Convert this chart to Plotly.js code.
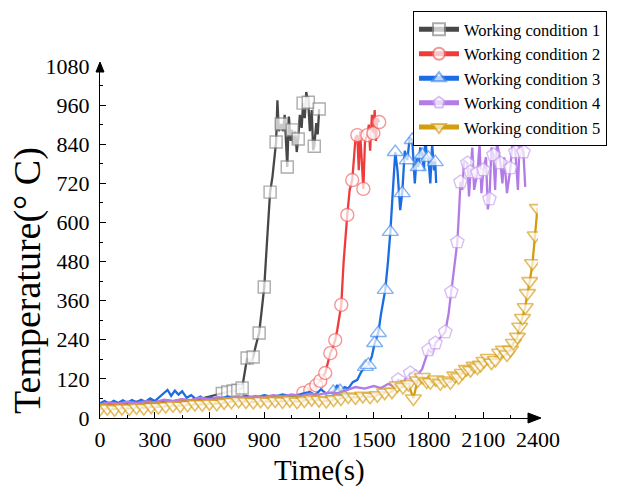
<!DOCTYPE html>
<html>
<head>
<meta charset="utf-8">
<script src="https://cdn.plot.ly/plotly-3.0.1.min.js"></script>
<style>html,body{margin:0;padding:0;background:#fff;}#chart{width:618px;height:486px;}</style>
</head>
<body>
<div id="chart"></div>
<script>
// Working condition 1
var t1 = [0,40,80,120,160,200,240,280,320,360,400,440,480,520,560,600,640,670,700,730,755,779,792,806,820,839,855,872,886,900,915,932,945,957,965,972,980,993,1003,1012,1020,1026,1035,1045,1053,1062,1070,1078,1086,1095,1105,1113,1122,1130,1141,1150,1160,1168,1174,1185,1193,1201];
var T1 = [40,42,40,43,41,44,45,47,46,48,50,49,52,55,60,66,72,75,80,83,85,92,140,184,170,187,225,261,330,402,540,693,740,820,847,975,880,902,880,930,820,770,925,850,884,840,880,816,856,930,890,966,920,1000,969,880,945,822,834,905,870,948];
var mk1 = [670,700,730,755,779,806,839,872,900,932,965,993,1026,1053,1086,1113,1141,1174,1201];
// Working condition 2
var t2 = [0,40,80,120,160,200,240,280,320,360,400,440,480,520,560,600,640,680,720,760,800,840,880,920,960,1000,1040,1080,1114,1135,1152,1170,1185,1207,1220,1234,1248,1262,1275,1289,1300,1310,1322,1335,1345,1355,1368,1382,1392,1400,1410,1418,1425,1433,1443,1452,1465,1473,1480,1490,1498,1505,1512,1520,1530];
var T2 = [38,42,45,41,46,50,48,52,49,55,52,56,53,57,54,58,55,60,57,58,62,59,63,60,65,62,66,64,77,80,86,92,100,114,125,138,165,199,215,239,270,300,347,480,560,623,700,730,800,860,868,760,880,800,703,850,868,900,820,930,874,945,850,920,908];
var mk2 = [1114,1152,1185,1207,1234,1262,1289,1322,1355,1382,1410,1443,1465,1498,1530];
// Working condition 3
var t3 = [0,25,50,75,100,125,150,175,200,225,250,275,300,325,350,370,390,410,430,450,475,500,525,550,575,600,650,700,750,800,850,900,950,1000,1050,1100,1150,1180,1210,1240,1278,1300,1316,1340,1360,1385,1410,1430,1454,1470,1490,1505,1525,1540,1563,1578,1591,1605,1618,1630,1645,1656,1670,1684,1697,1711,1725,1735,1744,1755,1766,1775,1783,1790,1799,1810,1820,1830,1837,1842];
var T3 = [45,52,44,53,46,54,47,55,48,56,50,60,52,65,75,86,68,84,72,82,62,70,58,66,56,63,58,66,60,68,62,70,64,72,66,74,80,70,88,75,80,101,82,95,90,110,117,140,157,163,190,230,261,320,393,480,571,700,816,760,638,690,820,791,860,853,720,800,770,830,807,760,874,800,798,720,840,760,785,721];
var mk3 = [1278,1316,1454,1470,1505,1525,1563,1591,1618,1656,1684,1711,1744,1766,1799,1837];
// Working condition 4
var t4 = [0,50,100,150,200,250,300,350,400,450,500,550,600,650,700,750,800,850,900,950,1000,1050,1100,1150,1200,1250,1300,1350,1400,1450,1500,1540,1580,1610,1634,1660,1700,1730,1765,1800,1820,1838,1860,1892,1910,1925,1940,1958,1968,1975,1985,1995,2013,2022,2030,2040,2050,2068,2080,2090,2101,2115,2125,2134,2145,2156,2165,2175,2194,2205,2215,2230,2249,2260,2276,2290,2300,2320,2330];
var T4 = [42,48,44,50,46,52,48,56,52,58,55,62,58,64,60,66,62,68,64,70,66,72,68,75,72,78,76,85,95,90,98,92,105,96,117,110,138,126,150,209,200,230,245,264,320,387,460,540,640,724,700,790,782,680,755,830,700,752,840,690,761,800,640,672,830,807,700,850,782,720,800,690,767,850,816,700,860,816,709];
var mk4 = [1634,1700,1730,1800,1838,1892,1925,1958,1975,2013,2030,2068,2101,2134,2156,2194,2249,2276,2320];
// Working condition 5 (marker on every point)
var t5 = [0,40,80,120,160,200,240,280,320,360,400,440,480,520,560,600,640,680,720,760,800,840,880,920,960,1000,1040,1080,1120,1160,1200,1240,1280,1320,1360,1400,1440,1480,1520,1560,1600,1630,1660,1690,1717,1740,1766,1790,1810,1840,1865,1890,1920,1945,1965,1986,2008,2030,2050,2068,2085,2105,2128,2145,2167,2190,2211,2230,2249,2265,2287,2300,2315,2330,2342,2355,2370,2385,2397];
var T5 = [28,30,27,31,29,33,31,35,34,37,39,38,41,43,42,45,44,48,50,53,51,49,53,50,54,51,55,50,54,58,55,52,57,60,66,63,68,65,70,78,81,100,95,104,60,115,126,112,110,118,107,115,110,130,125,138,150,147,160,155,163,175,184,170,178,200,209,195,209,230,249,280,307,340,383,420,475,560,644];

var xTicks = [0,300,600,900,1200,1500,1800,2100,2400];
var yTicks = [0,120,240,360,480,600,720,840,960,1080];
var names = ['Working condition 1','Working condition 2','Working condition 3','Working condition 4','Working condition 5'];

function sizesFor(t, mk, s) { return t.map(function (v) { return mk.indexOf(v) >= 0 ? s : 0; }); }

var series = [
  {t: t1, T: T1, mk: mk1, line: '#474747', edge: '#8a8a8a', sym: 'square', s: 12, lw: 1.4},
  {t: t2, T: T2, mk: mk2, line: '#f03b3b', edge: '#f26b6b', sym: 'circle', s: 13, lw: 1.4},
  {t: t3, T: T3, mk: mk3, line: '#1a6de3', edge: '#4f92ee', sym: 'triangle-up', s: 14, lw: 1.4},
  {t: t4, T: T4, mk: mk4, line: '#b27be6', edge: '#c9a3f1', sym: 'pentagon', s: 14, lw: 1.4},
  {t: t5, T: T5, mk: t5, line: '#d29e0c', edge: '#d9a220', sym: 'triangle-down', s: 14, lw: 1.6}
];

var data = series.map(function (sr, i) {
  return {
    x: sr.t, y: sr.T, name: names[i], type: 'scatter', mode: 'lines+markers',
    line: {color: sr.line, width: 2.3},
    marker: {symbol: sr.sym, size: sizesFor(sr.t, sr.mk, sr.s), color: '#ffffff',
             line: {color: sr.edge, width: sr.lw}},
    hoverinfo: 'skip'
  };
});

var serif = '"Liberation Serif", "Times New Roman", Times, serif';
var tickFont = {family: serif, size: 22, color: '#000'};

var layout = {
  width: 618, height: 486,
  margin: {l: 100, r: 80, t: 66, b: 68, autoexpand: false},
  paper_bgcolor: '#fff', plot_bgcolor: '#fff',
  showlegend: true,
  legend: {x: 0.7146, y: 1.156, xanchor: 'left', yanchor: 'top', bgcolor: '#fff',
           bordercolor: '#000', borderwidth: 1, itemsizing: 'constant', itemwidth: 40,
           tracegroupgap: 0, font: {family: serif, size: 16.5, color: '#000'}},
  xaxis: {range: [0, 2400], tickvals: xTicks, ticktext: xTicks.map(String), ticks: 'inside', ticklen: 6,
          tickwidth: 1, tickcolor: '#000', showline: true, linecolor: '#000', linewidth: 1,
          showgrid: false, zeroline: false, tickfont: tickFont, ticklabelstandoff: 2,
          minor: {dtick: 150, tick0: 0, ticks: 'inside', ticklen: 3, tickcolor: '#000', showgrid: false}},
  yaxis: {range: [0, 1080], tickvals: yTicks, ticktext: yTicks.map(String), ticks: 'inside', ticklen: 6,
          tickwidth: 1, tickcolor: '#000', showline: true, linecolor: '#000', linewidth: 1,
          showgrid: false, zeroline: false, tickfont: tickFont, ticklabelstandoff: 5,
          minor: {dtick: 60, tick0: 0, ticks: 'inside', ticklen: 3, tickcolor: '#000', showgrid: false}},
  annotations: [
    {text: 'Time(s)', xref: 'paper', yref: 'paper', x: 0.502, y: -0.148, xanchor: 'center', yanchor: 'middle',
     showarrow: false, font: {family: serif, size: 29, color: '#000'}},
    {text: 'Temperature(° C)', xref: 'paper', yref: 'paper', x: -0.166, y: 0.39, xanchor: 'center', yanchor: 'middle',
     textangle: -90, showarrow: false, font: {family: serif, size: 38, color: '#000'}}
  ],
  shapes: [
    {type: 'path', xref: 'paper', yref: 'paper', xsizemode: 'pixel', ysizemode: 'pixel', xanchor: 1, yanchor: 0,
     path: 'M -10 5 L 3 0 L -10 -5 Z', fillcolor: '#000', line: {color: '#000', width: 1}},
    {type: 'path', xref: 'paper', yref: 'paper', xsizemode: 'pixel', ysizemode: 'pixel', xanchor: 0, yanchor: 1,
     path: 'M -4 -6 L 0 4 L 4 -6 Z', fillcolor: '#000', line: {color: '#000', width: 1}}
  ]
};

Plotly.newPlot('chart', data, layout, {displayModeBar: false, staticPlot: true});
</script>
</body>
</html>
